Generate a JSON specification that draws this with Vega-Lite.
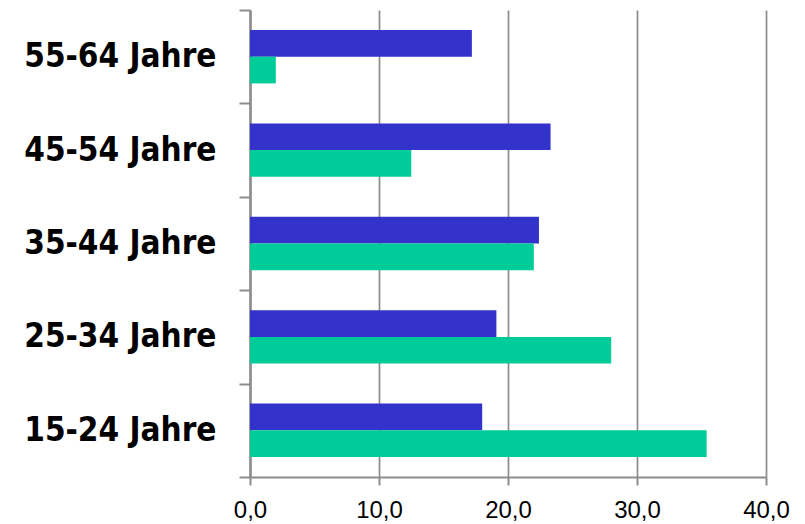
{
  "$schema": "https://vega.github.io/schema/vega-lite/v6.json",
  "width": 516,
  "height": 467,
  "autosize": {"type": "none"},
  "padding": {"left": 250, "top": 10, "right": 39, "bottom": 47},
  "background": "#ffffff",
  "data": {
    "values": [
      {"alter": "15-24 Jahre", "gruppe": "Gruppe 1", "wert": 18.0},
      {"alter": "15-24 Jahre", "gruppe": "Gruppe 2", "wert": 35.4},
      {"alter": "25-34 Jahre", "gruppe": "Gruppe 1", "wert": 19.1},
      {"alter": "25-34 Jahre", "gruppe": "Gruppe 2", "wert": 28.0},
      {"alter": "35-44 Jahre", "gruppe": "Gruppe 1", "wert": 22.4},
      {"alter": "35-44 Jahre", "gruppe": "Gruppe 2", "wert": 22.0},
      {"alter": "45-54 Jahre", "gruppe": "Gruppe 1", "wert": 23.3},
      {"alter": "45-54 Jahre", "gruppe": "Gruppe 2", "wert": 12.5},
      {"alter": "55-64 Jahre", "gruppe": "Gruppe 1", "wert": 17.2},
      {"alter": "55-64 Jahre", "gruppe": "Gruppe 2", "wert": 2.0}
    ]
  },
  "mark": {"type": "bar", "cornerRadius": 0},
  "encoding": {
    "y": {
      "field": "alter",
      "type": "nominal",
      "sort": ["55-64 Jahre", "45-54 Jahre", "35-44 Jahre", "25-34 Jahre", "15-24 Jahre"],
      "scale": {"paddingInner": 0, "paddingOuter": 0},
      "axis": {
        "title": null,
        "tickBand": "extent",
        "tickSize": 11,
        "tickWidth": 2,
        "tickColor": "#8c8c8c",
        "domainColor": "#8c8c8c",
        "domainWidth": 2.5,
        "labelPadding": 23,
        "labelLimit": 0,
        "labelFont": "DejaVu Sans Condensed",
        "labelFontWeight": "bold",
        "labelFontSize": 33,
        "labelColor": "#000000",
        "grid": false
      }
    },
    "yOffset": {
      "field": "gruppe",
      "type": "nominal",
      "sort": ["Gruppe 1", "Gruppe 2"],
      "scale": {"paddingInner": 0, "paddingOuter": 0.749}
    },
    "x": {
      "field": "wert",
      "type": "quantitative",
      "scale": {"domain": [0, 40], "nice": false},
      "axis": {
        "title": null,
        "values": [0, 10, 20, 30, 40],
        "labelExpr": "replace(format(datum.value, '.1f'), '.', ',')",
        "grid": true,
        "gridColor": "#8c8c8c",
        "gridWidth": 1.7,
        "gridOpacity": 1,
        "domainColor": "#8c8c8c",
        "domainWidth": 2,
        "tickColor": "#8c8c8c",
        "tickWidth": 2,
        "tickSize": 8,
        "labelPadding": 13,
        "labelFont": "Liberation Sans",
        "labelFontSize": 24,
        "labelColor": "#000000",
        "labelFlush": false
      }
    },
    "color": {
      "field": "gruppe",
      "type": "nominal",
      "scale": {"domain": ["Gruppe 1", "Gruppe 2"], "range": ["#3333cc", "#00cc99"]},
      "legend": null
    }
  },
  "config": {"view": {"stroke": null}}
}
